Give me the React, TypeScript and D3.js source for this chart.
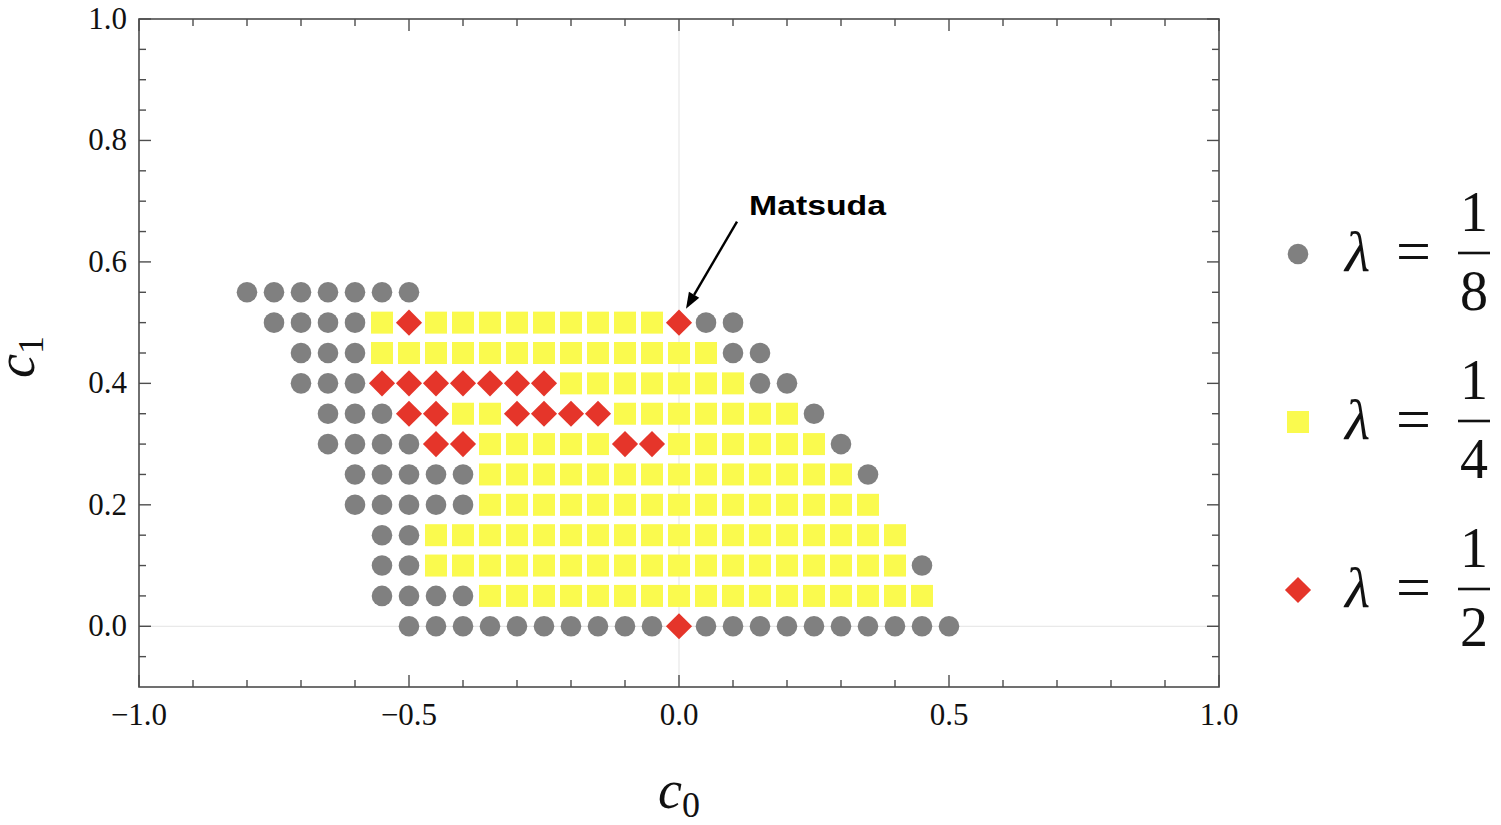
import React from "react";
import * as d3 from "d3";

// ---- Data ----
type Row = { c1: number; c0: number[] };

const grayRows: Row[] = [
  { c1: 0.55, c0: [-0.8, -0.75, -0.7, -0.65, -0.6, -0.55, -0.5] },
  { c1: 0.5, c0: [-0.75, -0.7, -0.65, -0.6, 0.05, 0.1] },
  { c1: 0.45, c0: [-0.7, -0.65, -0.6, 0.1, 0.15] },
  { c1: 0.4, c0: [-0.7, -0.65, -0.6, 0.15, 0.2] },
  { c1: 0.35, c0: [-0.65, -0.6, -0.55, 0.25] },
  { c1: 0.3, c0: [-0.65, -0.6, -0.55, -0.5, 0.3] },
  { c1: 0.25, c0: [-0.6, -0.55, -0.5, -0.45, -0.4, 0.35] },
  { c1: 0.2, c0: [-0.6, -0.55, -0.5, -0.45, -0.4] },
  { c1: 0.15, c0: [-0.55, -0.5] },
  { c1: 0.1, c0: [-0.55, -0.5, 0.45] },
  { c1: 0.05, c0: [-0.55, -0.5, -0.45, -0.4] },
  {
    c1: 0.0,
    c0: [-0.5, -0.45, -0.4, -0.35, -0.3, -0.25, -0.2, -0.15, -0.1, -0.05,
      0.05, 0.1, 0.15, 0.2, 0.25, 0.3, 0.35, 0.4, 0.45, 0.5],
  },
];

const yellowRows: Row[] = [
  { c1: 0.5, c0: [-0.55, -0.45, -0.4, -0.35, -0.3, -0.25, -0.2, -0.15, -0.1, -0.05] },
  { c1: 0.45, c0: [-0.55, -0.5, -0.45, -0.4, -0.35, -0.3, -0.25, -0.2, -0.15, -0.1, -0.05, 0.0, 0.05] },
  { c1: 0.4, c0: [-0.2, -0.15, -0.1, -0.05, 0.0, 0.05, 0.1] },
  { c1: 0.35, c0: [-0.4, -0.35, -0.1, -0.05, 0.0, 0.05, 0.1, 0.15, 0.2] },
  { c1: 0.3, c0: [-0.35, -0.3, -0.25, -0.2, -0.15, 0.0, 0.05, 0.1, 0.15, 0.2, 0.25] },
  { c1: 0.25, c0: [-0.35, -0.3, -0.25, -0.2, -0.15, -0.1, -0.05, 0.0, 0.05, 0.1, 0.15, 0.2, 0.25, 0.3] },
  { c1: 0.2, c0: [-0.35, -0.3, -0.25, -0.2, -0.15, -0.1, -0.05, 0.0, 0.05, 0.1, 0.15, 0.2, 0.25, 0.3, 0.35] },
  { c1: 0.15, c0: [-0.45, -0.4, -0.35, -0.3, -0.25, -0.2, -0.15, -0.1, -0.05, 0.0, 0.05, 0.1, 0.15, 0.2, 0.25, 0.3, 0.35, 0.4] },
  { c1: 0.1, c0: [-0.45, -0.4, -0.35, -0.3, -0.25, -0.2, -0.15, -0.1, -0.05, 0.0, 0.05, 0.1, 0.15, 0.2, 0.25, 0.3, 0.35, 0.4] },
  { c1: 0.05, c0: [-0.35, -0.3, -0.25, -0.2, -0.15, -0.1, -0.05, 0.0, 0.05, 0.1, 0.15, 0.2, 0.25, 0.3, 0.35, 0.4, 0.45] },
];

const redRows: Row[] = [
  { c1: 0.5, c0: [-0.5, 0.0] },
  { c1: 0.4, c0: [-0.55, -0.5, -0.45, -0.4, -0.35, -0.3, -0.25] },
  { c1: 0.35, c0: [-0.5, -0.45, -0.3, -0.25, -0.2, -0.15] },
  { c1: 0.3, c0: [-0.45, -0.4, -0.1, -0.05] },
  { c1: 0.0, c0: [0.0] },
];

const xMajorTicks = [-1.0, -0.5, 0.0, 0.5, 1.0];
const xMinorTicks = [-0.9, -0.8, -0.7, -0.6, -0.4, -0.3, -0.2, -0.1, 0.1, 0.2, 0.3, 0.4, 0.6, 0.7, 0.8, 0.9];
const yMajorTicks = [0.0, 0.2, 0.4, 0.6, 0.8, 1.0];
const yMinorTicks = [-0.05, 0.05, 0.1, 0.15, 0.25, 0.3, 0.35, 0.45, 0.5, 0.55, 0.65, 0.7, 0.75, 0.85, 0.9, 0.95];

const legendLabels = ["8", "4", "2"];
const annotationPoint = { c0: 0.0, c1: 0.5, label: "Matsuda" };

// ---- Styles ----
const GRAY = "#808080";
const YELLOW = "#fafa4e";
const RED = "#e5352a";
const FRAME = "#4d4d4d";
const SERIF = "'Liberation Serif', 'DejaVu Serif', serif";

const fmt = (v: number) => (v < 0 ? "\u2212" : "") + Math.abs(v).toFixed(1);

export default function App() {
  const W = 1501, H = 825;
  const x = d3.scaleLinear().domain([-1, 1]).range([139, 1219]);
  const y = d3.scaleLinear().domain([-0.1, 1.0]).range([687, 19]);

  const circle = d3.symbol(d3.symbolCircle, Math.PI * 10.3 * 10.3)()!;
  const square = d3.symbol(d3.symbolSquare, 22 * 22)()!;
  const diamond = d3.symbol(d3.symbolSquare, 18.5 * 18.5)()!;

  const flat = (rows: Row[]) => rows.flatMap((r) => r.c0.map((c0) => ({ c0, c1: r.c1 })));

  const [x0, x1] = x.range();
  const [y0, y1] = y.range(); // y0 bottom, y1 top

  const majorLen = 12, minorLen = 7;

  // arrow
  const tipX = x(annotationPoint.c0) + 7;
  const tipY = y(annotationPoint.c1) - 14;
  const startX = tipX + 51, startY = tipY - 87;
  const ang = Math.atan2(tipY - startY, tipX - startX);
  const headL = 16, headW = 6;
  const bx = tipX - headL * Math.cos(ang), by = tipY - headL * Math.sin(ang);
  const px = -Math.sin(ang) * headW, py = Math.cos(ang) * headW;

  const legendY = [254, 422, 590];
  const legendMarkers = [circle, square, diamond];
  const legendColors = [GRAY, YELLOW, RED];

  return (
    <div style={{ position: "fixed", left: 0, top: 0 }}>
      <svg width={W} height={H} style={{ display: "block", background: "#fff" }}>
        {/* zero axis lines */}
        <line x1={x(0)} x2={x(0)} y1={y1} y2={y0} stroke="#e3e3e3" strokeWidth={1} />
        <line x1={x0} x2={x1} y1={y(0)} y2={y(0)} stroke="#e3e3e3" strokeWidth={1} />

        {/* points */}
        <g>
          {flat(grayRows).map((d, i) => (
            <path key={"g" + i} d={circle} fill={GRAY} transform={`translate(${x(d.c0)},${y(d.c1)})`} />
          ))}
        </g>
        <g>
          {flat(yellowRows).map((d, i) => (
            <path key={"y" + i} d={square} fill={YELLOW} transform={`translate(${x(d.c0)},${y(d.c1)})`} />
          ))}
        </g>
        <g>
          {flat(redRows).map((d, i) => (
            <path key={"r" + i} d={diamond} fill={RED} transform={`translate(${x(d.c0)},${y(d.c1)}) rotate(45)`} />
          ))}
        </g>

        {/* frame */}
        <rect x={x0} y={y1} width={x1 - x0} height={y0 - y1} fill="none" stroke={FRAME} strokeWidth={1.6} />

        {/* x ticks */}
        {xMajorTicks.map((t) => (
          <g key={"xM" + t}>
            <line x1={x(t)} x2={x(t)} y1={y0} y2={y0 - majorLen} stroke={FRAME} strokeWidth={1.4} />
            <line x1={x(t)} x2={x(t)} y1={y1} y2={y1 + majorLen} stroke={FRAME} strokeWidth={1.4} />
            <text x={x(t)} y={725} textAnchor="middle" fontFamily={SERIF} fontSize={31} fill="#111">
              {fmt(t)}
            </text>
          </g>
        ))}
        {xMinorTicks.map((t) => (
          <g key={"xm" + t}>
            <line x1={x(t)} x2={x(t)} y1={y0} y2={y0 - minorLen} stroke={FRAME} strokeWidth={1.4} />
            <line x1={x(t)} x2={x(t)} y1={y1} y2={y1 + minorLen} stroke={FRAME} strokeWidth={1.4} />
          </g>
        ))}
        {/* y ticks */}
        {yMajorTicks.map((t) => (
          <g key={"yM" + t}>
            <line x1={x0} x2={x0 + majorLen} y1={y(t)} y2={y(t)} stroke={FRAME} strokeWidth={1.4} />
            <line x1={x1} x2={x1 - majorLen} y1={y(t)} y2={y(t)} stroke={FRAME} strokeWidth={1.4} />
            <text x={127} y={y(t) + 10} textAnchor="end" fontFamily={SERIF} fontSize={31} fill="#111">
              {fmt(t)}
            </text>
          </g>
        ))}
        {yMinorTicks.map((t) => (
          <g key={"ym" + t}>
            <line x1={x0} x2={x0 + minorLen} y1={y(t)} y2={y(t)} stroke={FRAME} strokeWidth={1.4} />
            <line x1={x1} x2={x1 - minorLen} y1={y(t)} y2={y(t)} stroke={FRAME} strokeWidth={1.4} />
          </g>
        ))}

        {/* axis labels */}
        <text x={679} y={808} textAnchor="middle" fontFamily={SERIF} fill="#111">
          <tspan fontSize={54} fontStyle="italic">c</tspan>
          <tspan fontSize={36} dy={9}>0</tspan>
        </text>
        <text transform="translate(34,357) rotate(-90)" textAnchor="middle" fontFamily={SERIF} fill="#111">
          <tspan fontSize={54} fontStyle="italic">c</tspan>
          <tspan fontSize={36} dy={9}>1</tspan>
        </text>

        {/* annotation */}
        <line x1={startX} y1={startY} x2={bx} y2={by} stroke="#000" strokeWidth={2.4} />
        <polygon points={`${tipX},${tipY} ${bx + px},${by + py} ${bx - px},${by - py}`} fill="#000" />
        <text x={749} y={215} fontFamily="'Liberation Sans', Arial, sans-serif" fontWeight="bold" fontSize={28}
          textLength={137} lengthAdjust="spacingAndGlyphs" fill="#000">
          {annotationPoint.label}
        </text>

        {/* legend */}
        {legendY.map((ly, i) => (
          <g key={"lg" + i}>
            <path d={legendMarkers[i]} fill={legendColors[i]}
              transform={`translate(1298,${ly}) ${i === 2 ? "rotate(45)" : ""}`} />
            <text x={1345} y={ly + 17} fontFamily={SERIF} fontSize={58} fontStyle="italic" fill="#111">λ</text>
            <text x={1396} y={ly + 18} fontFamily={SERIF} fontSize={62} fill="#111">=</text>
            <line x1={1458} x2={1490} y1={ly - 1} y2={ly - 1} stroke="#111" strokeWidth={2.6} />
            <text x={1474} y={ly - 23} textAnchor="middle" fontFamily={SERIF} fontSize={56} fill="#111">1</text>
            <text x={1474} y={ly + 56} textAnchor="middle" fontFamily={SERIF} fontSize={56} fill="#111">{legendLabels[i]}</text>
          </g>
        ))}
      </svg>
    </div>
  );
}
